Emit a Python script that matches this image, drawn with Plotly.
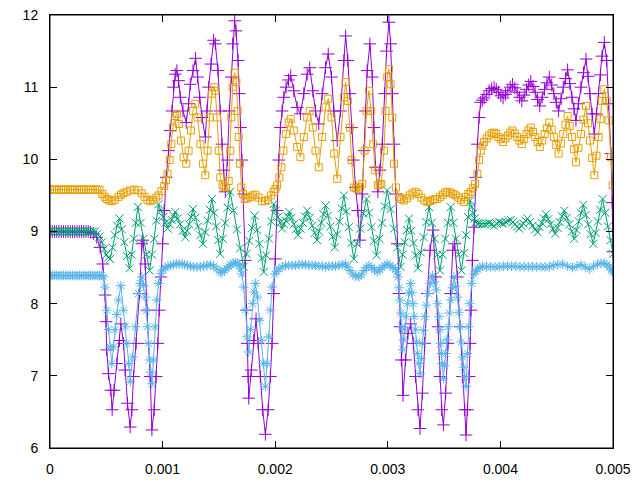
import plotly.graph_objects as go

# time in microseconds, value
purple_pts = [
    (0, 9.0), (20, 9.0), (40, 9.0), (60, 9.0), (80, 9.0), (100, 9.0), (120, 9.0), (140, 9.0), (160, 9.0),
    (180, 9.0), (200, 9.0), (220, 9.0), (240, 9.0), (260, 9.0), (280, 9.0), (300, 9.0), (320, 9.0),
    (340, 9.0), (360, 8.99), (385, 8.97), (415, 8.92), (445, 8.78), (469, 8.55), (489, 8.12), (498, 7.75),
    (504, 7.36), (519, 7.03), (540, 6.80), (552, 6.53), (569, 6.80), (593, 7.17), (617, 7.49), (629, 7.72),
    (653, 7.45), (667, 7.08), (688, 6.62), (712, 6.29), (727, 6.53), (742, 6.99), (765, 7.45), (795, 8.14),
    (816, 8.83), (825, 8.88), (845, 8.55), (860, 7.91), (875, 7.45), (890, 6.99), (905, 6.25), (925, 6.53),
    (943, 6.99), (958, 7.45), (970, 7.91), (985, 8.37), (1000, 8.83), (1014, 9.29), (1032, 9.75),
    (1053, 10.12), (1068, 10.40), (1083, 10.67), (1097, 11.0), (1112, 11.18), (1127, 11.23), (1142, 11.09),
    (1157, 10.86), (1181, 10.67), (1210, 10.51), (1231, 10.77), (1246, 11.04), (1270, 11.23), (1293, 11.40),
    (1311, 11.14), (1329, 10.86), (1350, 10.58), (1379, 10.31), (1394, 10.67), (1409, 11.0), (1430, 11.32),
    (1453, 11.65), (1468, 11.60), (1492, 11.23), (1512, 10.67), (1527, 10.21), (1542, 9.85), (1557, 9.55),
    (1575, 9.99), (1593, 10.67), (1610, 11.14), (1622, 11.60), (1640, 11.92), (1652, 11.78), (1670, 11.37),
    (1682, 10.91), (1693, 10.44), (1705, 9.99), (1720, 9.52), (1735, 8.60), (1744, 7.91), (1753, 7.45),
    (1759, 6.99), (1765, 6.69), (1788, 7.08), (1809, 7.49), (1830, 7.79), (1848, 7.45), (1868, 6.99),
    (1889, 6.53), (1913, 6.19), (1937, 6.53), (1957, 6.99), (1972, 7.45), (1987, 8.14), (2002, 8.62),
    (2017, 9.29), (2032, 9.99), (2046, 10.44), (2061, 10.67), (2076, 10.86), (2097, 11.0), (2118, 11.10),
    (2138, 11.16), (2165, 10.95), (2195, 10.72), (2224, 10.63), (2254, 10.91), (2284, 11.18), (2307, 11.27),
    (2334, 10.95), (2358, 10.67), (2387, 10.49), (2417, 10.91), (2447, 11.27), (2471, 11.46), (2500, 11.14),
    (2521, 10.67), (2551, 10.26), (2580, 10.67), (2610, 11.37), (2625, 11.71), (2645, 11.37), (2663, 10.91),
    (2678, 10.44), (2693, 9.99), (2713, 9.61), (2734, 9.29), (2752, 8.88), (2773, 9.52), (2788, 10.12),
    (2802, 10.67), (2817, 11.23), (2841, 11.60), (2862, 11.14), (2877, 10.44), (2891, 9.89), (2912, 9.55),
    (2930, 9.85), (2951, 10.21), (2972, 10.91), (2989, 11.50), (3010, 11.90), (3025, 11.60), (3040, 10.91),
    (3055, 10.21), (3069, 9.52), (3084, 8.83), (3099, 8.14), (3108, 7.68), (3120, 7.22), (3135, 6.73),
    (3158, 7.22), (3179, 7.59), (3203, 7.72), (3227, 7.45), (3247, 6.99), (3268, 6.53), (3286, 6.27),
    (3307, 6.76), (3327, 7.45), (3351, 8.14), (3375, 8.74), (3402, 9.02), (3425, 8.37), (3446, 7.68),
    (3464, 6.99), (3479, 6.53), (3494, 6.32), (3514, 6.76), (3535, 7.45), (3559, 8.14), (3577, 8.74),
    (3594, 8.83), (3618, 8.37), (3642, 7.68), (3663, 6.99), (3683, 6.53), (3695, 6.18), (3707, 6.53),
    (3722, 6.99), (3731, 7.45), (3739, 7.91), (3751, 8.60), (3766, 9.06), (3781, 9.75), (3796, 10.21),
    (3811, 10.58), (3825, 10.79), (3840, 10.82), (3855, 10.85), (3878, 10.90), (3900, 10.95), (3922, 10.98),
    (3944, 11.0), (3963, 10.97), (3983, 10.93), (4004, 10.88), (4024, 10.85), (4045, 10.90), (4066, 10.95),
    (4087, 11.0), (4107, 11.04), (4128, 10.99), (4149, 10.93), (4170, 10.86), (4190, 10.81), (4211, 10.89),
    (4232, 10.97), (4251, 11.03), (4270, 11.08), (4290, 11.01), (4309, 10.93), (4330, 10.83), (4350, 10.74),
    (4371, 10.86), (4392, 10.97), (4413, 11.06), (4434, 11.14), (4455, 11.03), (4475, 10.91), (4496, 10.79),
    (4517, 10.67), (4538, 10.84), (4558, 11.0), (4578, 11.12), (4597, 11.24), (4616, 11.05), (4635, 10.86),
    (4653, 10.70), (4671, 10.54), (4693, 10.77), (4715, 11.0), (4738, 11.20), (4760, 11.39), (4778, 11.15),
    (4795, 10.91), (4815, 10.63), (4834, 10.35), (4853, 10.63), (4872, 10.91), (4888, 11.17), (4902, 11.43),
    (4923, 11.62), (4944, 11.37), (4961, 10.77), (4982, 10.08), (4993, 9.40), (5000, 8.72),
]

green_pts = [
    (0, 9.0), (20, 9.0), (40, 9.0), (60, 9.0), (80, 9.0), (100, 9.0), (120, 9.0), (140, 9.0), (160, 9.0),
    (180, 9.0), (200, 9.0), (220, 9.0), (240, 9.0), (260, 9.0), (280, 9.0), (300, 9.0), (320, 9.0),
    (340, 9.0), (360, 9.0), (380, 9.0), (400, 9.0), (420, 8.97), (440, 8.93), (460, 8.85), (480, 8.76),
    (500, 8.68), (517, 8.64), (534, 8.62), (555, 8.78), (575, 8.95), (596, 9.08), (617, 9.18), (638, 9.03),
    (660, 8.85), (683, 8.66), (706, 8.49), (725, 8.68), (745, 8.90), (762, 9.12), (780, 9.34), (805, 9.12),
    (830, 8.90), (857, 8.68), (884, 8.46), (905, 8.68), (925, 8.90), (945, 9.15), (964, 9.38), (985, 9.29),
    (1005, 9.20), (1024, 9.12), (1044, 9.04), (1062, 9.10), (1080, 9.16), (1096, 9.22), (1112, 9.27),
    (1134, 9.18), (1155, 9.10), (1178, 9.01), (1201, 8.92), (1218, 9.01), (1235, 9.10), (1252, 9.20),
    (1270, 9.31), (1292, 9.19), (1315, 9.07), (1336, 8.95), (1358, 8.83), (1380, 8.99), (1400, 9.15),
    (1420, 9.30), (1438, 9.45), (1457, 9.26), (1475, 9.07), (1494, 8.88), (1512, 8.69), (1533, 8.90),
    (1555, 9.12), (1578, 9.33), (1600, 9.55), (1630, 9.29), (1660, 9.03), (1690, 8.77), (1720, 8.51),
    (1745, 8.69), (1770, 8.87), (1794, 9.05), (1818, 9.22), (1840, 9.02), (1860, 8.83), (1880, 8.63),
    (1898, 8.44), (1920, 8.67), (1945, 8.90), (1965, 9.14), (1987, 9.38), (2006, 9.29), (2025, 9.20),
    (2044, 9.12), (2061, 9.04), (2078, 9.10), (2095, 9.15), (2110, 9.21), (2126, 9.27), (2145, 9.19),
    (2165, 9.10), (2184, 9.03), (2203, 8.95), (2225, 9.04), (2245, 9.12), (2265, 9.21), (2284, 9.29),
    (2307, 9.19), (2330, 9.08), (2350, 8.98), (2372, 8.88), (2390, 9.00), (2410, 9.12), (2428, 9.24),
    (2447, 9.36), (2468, 9.22), (2490, 9.07), (2510, 8.93), (2529, 8.78), (2550, 8.96), (2570, 9.14),
    (2590, 9.32), (2610, 9.50), (2632, 9.28), (2655, 9.06), (2676, 8.84), (2698, 8.62), (2726, 8.83),
    (2755, 9.04), (2783, 9.25), (2811, 9.45), (2833, 9.26), (2855, 9.06), (2878, 8.87), (2900, 8.67),
    (2925, 8.90), (2950, 9.12), (2972, 9.35), (2995, 9.57), (3025, 9.31), (3055, 9.04), (3085, 8.78),
    (3114, 8.51), (3132, 8.68), (3150, 8.85), (3170, 9.02), (3188, 9.18), (3208, 9.01), (3228, 8.84),
    (3248, 8.67), (3268, 8.49), (3293, 8.71), (3318, 8.92), (3342, 9.13), (3366, 9.34), (3390, 9.12),
    (3415, 8.90), (3440, 8.68), (3463, 8.46), (3486, 8.68), (3510, 8.90), (3535, 9.12), (3559, 9.34),
    (3582, 9.12), (3606, 8.90), (3630, 8.68), (3654, 8.46), (3675, 8.70), (3695, 8.95), (3713, 9.20),
    (3730, 9.43), (3745, 9.34), (3760, 9.25), (3771, 9.18), (3781, 9.13), (3796, 9.11), (3811, 9.11),
    (3835, 9.10), (3860, 9.10), (3880, 9.11), (3900, 9.12), (3922, 9.10), (3944, 9.08), (3967, 9.11),
    (3990, 9.13), (4007, 9.12), (4024, 9.11), (4047, 9.13), (4070, 9.15), (4093, 9.16), (4111, 9.13),
    (4130, 9.10), (4148, 9.07), (4167, 9.04), (4186, 9.08), (4205, 9.11), (4223, 9.15), (4241, 9.18),
    (4263, 9.13), (4285, 9.08), (4308, 9.03), (4330, 8.99), (4349, 9.06), (4367, 9.12), (4386, 9.18),
    (4404, 9.24), (4425, 9.17), (4445, 9.10), (4466, 9.03), (4487, 8.97), (4507, 9.05), (4527, 9.13),
    (4547, 9.21), (4567, 9.29), (4590, 9.19), (4612, 9.10), (4634, 9.00), (4656, 8.90), (4676, 9.02),
    (4696, 9.14), (4716, 9.26), (4736, 9.37), (4758, 9.23), (4780, 9.10), (4802, 8.96), (4825, 8.83),
    (4845, 8.98), (4866, 9.14), (4887, 9.30), (4908, 9.45), (4932, 9.26), (4955, 9.07), (4978, 8.88),
    (5000, 8.69),
]

blue_pts = [
    (0, 8.39), (20, 8.39), (40, 8.39), (60, 8.39), (80, 8.39), (100, 8.39), (120, 8.39), (140, 8.39),
    (160, 8.39), (180, 8.39), (200, 8.39), (220, 8.39), (240, 8.39), (260, 8.39), (280, 8.39), (300, 8.39),
    (320, 8.39), (340, 8.39), (360, 8.39), (380, 8.39), (400, 8.39), (420, 8.39), (440, 8.39), (460, 8.39),
    (475, 8.37), (489, 8.23), (504, 7.91), (519, 7.64), (534, 7.40), (549, 7.17), (564, 7.40), (578, 7.64),
    (593, 7.85), (608, 8.05), (629, 8.25), (653, 7.91), (668, 7.68), (682, 7.45), (700, 7.17), (712, 6.92),
    (736, 7.26), (759, 7.68), (786, 8.14), (800, 8.28), (816, 8.37), (830, 8.25), (845, 8.09), (855, 7.90),
    (866, 7.68), (875, 7.45), (884, 7.22), (895, 7.05), (905, 6.89), (919, 7.22), (934, 7.68), (949, 8.05),
    (964, 8.28), (985, 8.42), (1004, 8.47), (1023, 8.50), (1048, 8.52), (1072, 8.53), (1097, 8.54),
    (1122, 8.55), (1147, 8.55), (1172, 8.55), (1197, 8.54), (1221, 8.53), (1246, 8.52), (1276, 8.51),
    (1305, 8.51), (1335, 8.51), (1365, 8.52), (1394, 8.53), (1424, 8.54), (1454, 8.52), (1483, 8.48),
    (1513, 8.44), (1527, 8.43), (1550, 8.46), (1570, 8.49), (1587, 8.51), (1606, 8.54), (1626, 8.56),
    (1646, 8.57), (1664, 8.56), (1682, 8.53), (1694, 8.48), (1705, 8.41), (1720, 8.23), (1735, 7.91),
    (1750, 7.54), (1765, 7.33), (1782, 7.64), (1800, 8.0), (1812, 8.16), (1824, 8.28), (1842, 8.09),
    (1860, 7.77), (1877, 7.49), (1895, 7.17), (1913, 6.85), (1928, 7.17), (1943, 7.54), (1957, 7.91),
    (1972, 8.23), (1996, 8.41), (2014, 8.45), (2032, 8.48), (2062, 8.51), (2091, 8.53), (2121, 8.53),
    (2150, 8.53), (2180, 8.53), (2210, 8.54), (2240, 8.54), (2269, 8.54), (2299, 8.53), (2328, 8.53),
    (2358, 8.53), (2388, 8.52), (2418, 8.52), (2447, 8.51), (2477, 8.52), (2507, 8.52), (2536, 8.52),
    (2566, 8.53), (2595, 8.54), (2625, 8.55), (2639, 8.51), (2665, 8.46), (2690, 8.41), (2715, 8.38),
    (2743, 8.37), (2765, 8.40), (2788, 8.46), (2810, 8.50), (2832, 8.53), (2857, 8.50), (2882, 8.47),
    (2906, 8.44), (2928, 8.47), (2950, 8.50), (2973, 8.53), (2995, 8.55), (3020, 8.53), (3045, 8.50),
    (3069, 8.48), (3080, 8.44), (3090, 8.37), (3100, 8.22), (3108, 8.05), (3116, 7.87), (3123, 7.68),
    (3132, 7.36), (3141, 7.50), (3149, 7.64), (3161, 7.82), (3173, 8.0), (3188, 8.15), (3203, 8.28),
    (3214, 8.15), (3224, 8.0), (3234, 7.82), (3244, 7.64), (3253, 7.47), (3262, 7.31), (3274, 7.17),
    (3286, 7.03), (3297, 7.24), (3307, 7.45), (3317, 7.63), (3327, 7.82), (3342, 7.98), (3357, 8.14),
    (3376, 8.28), (3396, 8.39), (3413, 8.30), (3431, 8.19), (3443, 8.00), (3455, 7.82), (3462, 7.64),
    (3470, 7.45), (3476, 7.31), (3482, 7.17), (3494, 6.96), (3504, 7.14), (3514, 7.31), (3525, 7.50),
    (3535, 7.68), (3547, 7.87), (3559, 8.05), (3573, 8.22), (3588, 8.37), (3603, 8.24), (3618, 8.09),
    (3630, 7.88), (3642, 7.68), (3652, 7.47), (3663, 7.26), (3673, 7.12), (3683, 6.99), (3695, 6.85),
    (3707, 7.31), (3719, 7.68), (3728, 8.0), (3745, 8.28), (3766, 8.41), (3781, 8.45), (3796, 8.48),
    (3818, 8.50), (3840, 8.52), (3877, 8.51), (3914, 8.51), (3952, 8.51), (3989, 8.51), (4026, 8.52),
    (4063, 8.52), (4100, 8.52), (4137, 8.52), (4174, 8.51), (4211, 8.51), (4248, 8.51), (4285, 8.51),
    (4322, 8.51), (4360, 8.51), (4397, 8.51), (4434, 8.51), (4470, 8.53), (4510, 8.54), (4552, 8.55),
    (4597, 8.52), (4641, 8.50), (4680, 8.52), (4715, 8.54), (4752, 8.51), (4789, 8.48), (4826, 8.52),
    (4864, 8.55), (4893, 8.56), (4923, 8.56), (4945, 8.54), (4967, 8.51), (4983, 8.47), (4997, 8.44),
]

orange_pts = [
    (0, 9.58), (20, 9.58), (40, 9.58), (60, 9.58), (80, 9.58), (100, 9.58), (120, 9.58), (140, 9.58),
    (160, 9.58), (180, 9.58), (200, 9.58), (220, 9.58), (240, 9.58), (260, 9.58), (280, 9.58), (300, 9.58),
    (320, 9.58), (340, 9.58), (360, 9.58), (380, 9.58), (400, 9.58), (420, 9.58), (440, 9.58), (465, 9.52),
    (485, 9.48), (504, 9.45), (526, 9.43), (549, 9.42), (575, 9.44), (608, 9.48), (630, 9.51), (653, 9.53),
    (680, 9.55), (712, 9.57), (750, 9.58), (786, 9.57), (815, 9.53), (840, 9.48), (865, 9.44), (890, 9.42),
    (915, 9.44), (940, 9.47), (964, 9.50), (990, 9.56), (1014, 9.63), (1030, 9.71), (1044, 9.80),
    (1062, 9.99), (1077, 10.21), (1091, 10.44), (1112, 10.60), (1127, 10.63), (1145, 10.49), (1163, 10.26),
    (1186, 10.03), (1210, 9.94), (1231, 10.12), (1252, 10.40), (1270, 10.67), (1290, 10.77), (1311, 10.58),
    (1335, 10.21), (1358, 9.94), (1379, 9.78), (1400, 10.12), (1418, 10.58), (1438, 10.91), (1459, 11.0),
    (1468, 10.95), (1483, 10.58), (1498, 10.12), (1512, 9.75), (1533, 9.64), (1548, 9.62), (1563, 9.61),
    (1587, 9.70), (1601, 10.12), (1610, 10.58), (1622, 11.0), (1640, 11.20), (1655, 11.07), (1667, 10.67),
    (1676, 10.31), (1687, 9.94), (1699, 9.61), (1714, 9.52), (1729, 9.45), (1754, 9.46), (1779, 9.48),
    (1800, 9.50), (1824, 9.51), (1853, 9.47), (1883, 9.42), (1910, 9.42), (1937, 9.44), (1962, 9.50),
    (1987, 9.55), (2002, 9.59), (2017, 9.64), (2037, 9.75), (2055, 9.89), (2073, 10.12), (2097, 10.35),
    (2120, 10.51), (2138, 10.56), (2165, 10.40), (2195, 10.17), (2224, 10.03), (2254, 10.31), (2284, 10.58),
    (2307, 10.67), (2334, 10.44), (2358, 10.12), (2387, 9.89), (2417, 10.31), (2447, 10.72), (2471, 10.84),
    (2500, 10.58), (2524, 10.08), (2551, 9.73), (2580, 10.31), (2610, 10.86), (2625, 11.07), (2645, 10.81),
    (2663, 10.44), (2678, 9.99), (2699, 9.61), (2716, 9.60), (2734, 9.59), (2754, 9.62), (2773, 9.66),
    (2794, 10.12), (2811, 10.67), (2832, 10.95), (2853, 10.67), (2871, 10.21), (2888, 9.85), (2912, 9.64),
    (2927, 9.65), (2942, 9.66), (2966, 10.12), (2980, 10.67), (2995, 11.14), (3010, 11.25), (3025, 11.04),
    (3040, 10.58), (3055, 9.94), (3072, 9.61), (3099, 9.48), (3120, 9.45), (3143, 9.43), (3170, 9.46),
    (3195, 9.50), (3220, 9.53), (3247, 9.55), (3272, 9.52), (3298, 9.47), (3325, 9.43), (3351, 9.41),
    (3375, 9.42), (3400, 9.44), (3420, 9.45), (3440, 9.45), (3465, 9.48), (3490, 9.51), (3510, 9.54),
    (3529, 9.55), (3555, 9.54), (3580, 9.52), (3603, 9.50), (3625, 9.47), (3650, 9.44), (3677, 9.41),
    (3692, 9.48), (3715, 9.52), (3736, 9.55), (3755, 9.60), (3775, 9.66), (3796, 9.80), (3811, 9.99),
    (3825, 10.12), (3840, 10.19), (3855, 10.24), (3878, 10.29), (3900, 10.33), (3922, 10.36), (3944, 10.37),
    (3963, 10.35), (3983, 10.31), (4004, 10.28), (4024, 10.24), (4045, 10.29), (4066, 10.33), (4087, 10.37),
    (4107, 10.40), (4128, 10.36), (4149, 10.31), (4170, 10.26), (4190, 10.21), (4211, 10.28), (4232, 10.35),
    (4251, 10.40), (4270, 10.44), (4290, 10.38), (4309, 10.31), (4330, 10.24), (4350, 10.17), (4371, 10.26),
    (4392, 10.35), (4413, 10.43), (4434, 10.51), (4455, 10.41), (4475, 10.31), (4496, 10.20), (4517, 10.08),
    (4538, 10.22), (4558, 10.35), (4578, 10.48), (4597, 10.60), (4616, 10.46), (4635, 10.31), (4653, 10.14),
    (4671, 9.96), (4693, 10.16), (4715, 10.35), (4738, 10.55), (4760, 10.74), (4778, 10.50), (4795, 10.26),
    (4815, 10.02), (4834, 9.78), (4853, 10.05), (4872, 10.31), (4888, 10.56), (4902, 10.81), (4923, 10.97),
    (4944, 10.81), (4961, 10.54), (4982, 10.03), (4997, 9.64),
]

x_ticks = [0, 0.001, 0.002, 0.003, 0.004, 0.005]
x_ticktext = ["0", "0.001", "0.002", "0.003", "0.004", "0.005"]
y_ticks = [6, 7, 8, 9, 10, 11, 12]

series = [
    (purple_pts, "#9400d3", "cross-thin-open", 9),
    (green_pts, "#009e73", "x-thin-open", 8),
    (blue_pts, "#56b4e9", "asterisk-open", 8),
    (orange_pts, "#e69f00", "square-open", 7),
]

fig = go.Figure()
for pts, color, symbol, size in series:
    fig.add_trace(go.Scatter(
        x=[t * 1e-6 for t, _ in pts],
        y=[v for _, v in pts],
        mode="lines+markers",
        line=dict(color=color, width=1),
        marker=dict(symbol=symbol, size=size, color=color, line=dict(color=color, width=1)),
    ))

axis_style = dict(
    showline=True, linecolor="black", linewidth=1, mirror="ticks",
    ticks="inside", ticklen=7, tickcolor="black", tickwidth=1,
    showgrid=False, zeroline=False, ticklabelstandoff=8, automargin=False,
    ticklabeloverflow="allow",
)
fig.update_xaxes(range=[0, 0.005], tickvals=x_ticks, ticktext=x_ticktext, **axis_style)
fig.update_yaxes(range=[6, 12], tickvals=y_ticks, **axis_style)

# black frame round the plot area, like gnuplot's border
fig.add_shape(type="rect", xref="paper", yref="paper", x0=0, x1=1, y0=0, y1=1,
              line=dict(color="black", width=1), layer="above")

fig.update_layout(
    width=640, height=480,
    margin=dict(l=50, r=27, t=15, b=32),
    paper_bgcolor="white", plot_bgcolor="white",
    font=dict(family="Liberation Sans, Arial, sans-serif", size=14, color="black"),
    showlegend=False,
)
# drop the default body margin so the figure sits at the page corner
fig.write_html("out.html", config={"displayModeBar": False},
               post_script="document.body.style.margin = '0';")
